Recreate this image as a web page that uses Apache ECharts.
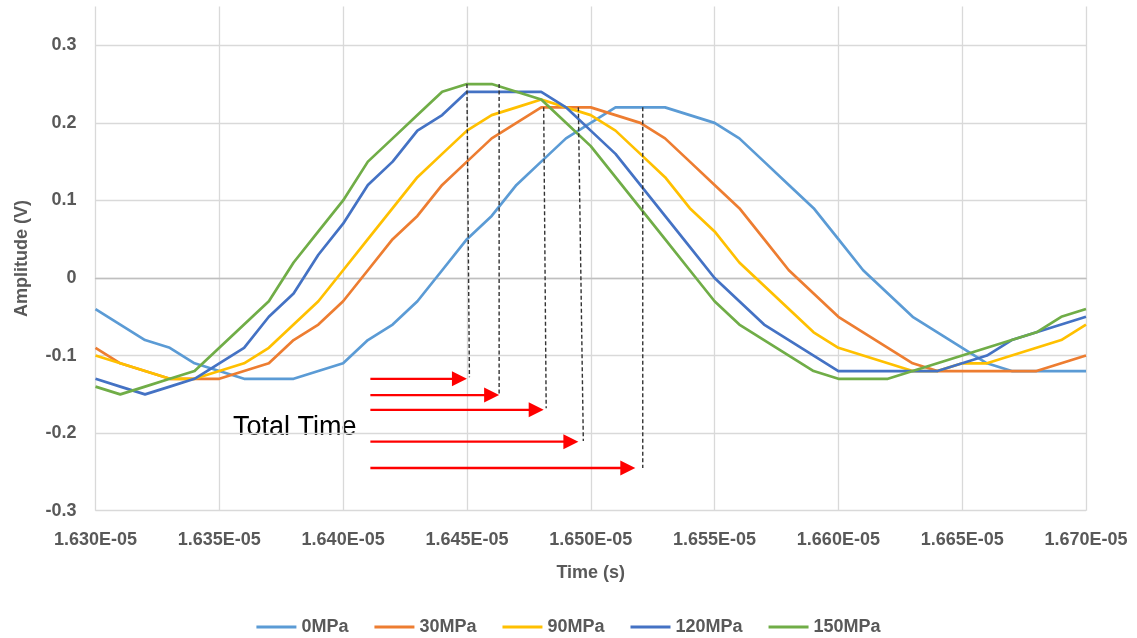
<!DOCTYPE html>
<html>
<head>
<meta charset="utf-8">
<script src="https://cdn.jsdelivr.net/npm/echarts@6/dist/echarts.min.js"></script>
<style>
  html, body { margin: 0; padding: 0; background: #ffffff; }
  #chart { width: 1137px; height: 638px; }
</style>
</head>
<body>
<div id="chart"></div>
<script>
// Time samples, in units of 1E-05 s
const times = [1.630, 1.631, 1.632, 1.633, 1.634, 1.635, 1.636, 1.637, 1.638, 1.639,
               1.640, 1.641, 1.642, 1.643, 1.644, 1.645, 1.646, 1.647, 1.648, 1.649,
               1.650, 1.651, 1.652, 1.653, 1.654, 1.655, 1.656, 1.657, 1.658, 1.659,
               1.660, 1.661, 1.662, 1.663, 1.664, 1.665, 1.666, 1.667, 1.668, 1.669, 1.670];

// Received amplitude (V) at each load
const amp0 = [-0.04, -0.06, -0.08, -0.09, -0.11, -0.12, -0.13, -0.13, -0.13, -0.12,
              -0.11, -0.08, -0.06, -0.03, 0.01, 0.05, 0.08, 0.12, 0.15, 0.18,
              0.20, 0.22, 0.22, 0.22, 0.21, 0.20, 0.18, 0.15, 0.12, 0.09,
              0.05, 0.01, -0.02, -0.05, -0.07, -0.09, -0.11, -0.12, -0.12, -0.12, -0.12];
const amp30 = [-0.09, -0.11, -0.12, -0.13, -0.13, -0.13, -0.12, -0.11, -0.08, -0.06,
               -0.03, 0.01, 0.05, 0.08, 0.12, 0.15, 0.18, 0.20, 0.22, 0.22,
               0.22, 0.21, 0.20, 0.18, 0.15, 0.12, 0.09, 0.05, 0.01, -0.02,
               -0.05, -0.07, -0.09, -0.11, -0.12, -0.12, -0.12, -0.12, -0.12, -0.11, -0.10];
const amp90 = [-0.10, -0.11, -0.12, -0.13, -0.13, -0.12, -0.11, -0.09, -0.06, -0.03,
               0.01, 0.05, 0.09, 0.13, 0.16, 0.19, 0.21, 0.22, 0.23, 0.22,
               0.21, 0.19, 0.16, 0.13, 0.09, 0.06, 0.02, -0.01, -0.04, -0.07,
               -0.09, -0.10, -0.11, -0.12, -0.12, -0.11, -0.11, -0.10, -0.09, -0.08, -0.06];
const amp120 = [-0.13, -0.14, -0.15, -0.14, -0.13, -0.11, -0.09, -0.05, -0.02, 0.03,
                0.07, 0.12, 0.15, 0.19, 0.21, 0.24, 0.24, 0.24, 0.24, 0.22,
                0.19, 0.16, 0.12, 0.08, 0.04, 0.00, -0.03, -0.06, -0.08, -0.10,
                -0.12, -0.12, -0.12, -0.12, -0.12, -0.11, -0.10, -0.08, -0.07, -0.06, -0.05];
const amp150 = [-0.14, -0.15, -0.14, -0.13, -0.12, -0.09, -0.06, -0.03, 0.02, 0.06,
                0.10, 0.15, 0.18, 0.21, 0.24, 0.25, 0.25, 0.24, 0.23, 0.20,
                0.17, 0.13, 0.09, 0.05, 0.01, -0.03, -0.06, -0.08, -0.10, -0.12,
                -0.13, -0.13, -0.13, -0.12, -0.11, -0.10, -0.09, -0.08, -0.07, -0.05, -0.04];

const seriesNames = ['0MPa', '30MPa', '90MPa', '120MPa', '150MPa'];
const seriesValues = [amp0, amp30, amp90, amp120, amp150];
const seriesColors = ['#5B9BD5', '#ED7D31', '#FFC000', '#4472C4', '#70AD47'];

// Total-time annotation: arrows from a common start to each peak time
const arrowStart = 1.6411;
const arrowEnd = [1.6450, 1.6463, 1.6481, 1.6495, 1.6518];
const arrowLevel = [-0.13, -0.151, -0.17, -0.211, -0.245];

// Dashed drop lines from each peak
const dropTimeTop = [1.6450, 1.6463, 1.6481, 1.6495, 1.6521];
const dropTimeBottom = [1.6451, 1.6463, 1.6482, 1.6497, 1.6521];
const dropTop = [0.25, 0.25, 0.22, 0.22, 0.22];
const dropBottom = [-0.128, -0.152, -0.168, -0.21, -0.245];

const xTickStep = 0.005;
const yTickStep = 0.1;

const labelFont = 'Liberation Sans, Arial, sans-serif';
const labelColor = '#595959';

const chart = echarts.init(document.getElementById('chart'), null, { renderer: 'canvas' });

const lineSeries = seriesNames.map((name, k) => ({
  name: name,
  type: 'line',
  xAxisIndex: 0,
  yAxisIndex: 0,
  showSymbol: false,
  symbol: 'none',
  animation: false,
  color: seriesColors[k],
  lineStyle: { width: 2.7, color: seriesColors[k], join: 'round' },
  data: times.map((t, i) => [t, seriesValues[k][i]]),
  z: 3 + k
}));

const dropSeries = {
  type: 'custom',
  xAxisIndex: 0,
  yAxisIndex: 0,
  animation: false,
  silent: true,
  z: 10,
  data: dropTimeTop.map((t, i) => [t, dropTop[i], dropTimeBottom[i], dropBottom[i]]),
  renderItem: function (params, api) {
    const a = api.coord([api.value(0), api.value(1)]);
    const b = api.coord([api.value(2), api.value(3)]);
    return {
      type: 'line',
      shape: { x1: a[0], y1: a[1], x2: b[0], y2: b[1] },
      style: { stroke: '#333333', lineWidth: 1.4, lineDash: [4, 2.5], fill: null }
    };
  }
};

const arrowSeries = {
  type: 'custom',
  xAxisIndex: 0,
  yAxisIndex: 0,
  animation: false,
  silent: true,
  z: 11,
  data: arrowEnd.map((t, i) => [arrowStart, t, arrowLevel[i]]),
  renderItem: function (params, api) {
    const a = api.coord([api.value(0), api.value(2)]);
    const b = api.coord([api.value(1), api.value(2)]);
    const headLen = 15, headHalf = 7.5;
    return {
      type: 'group',
      children: [
        {
          type: 'line',
          shape: { x1: a[0], y1: a[1], x2: b[0] - headLen + 1, y2: b[1] },
          style: { stroke: '#FF0000', lineWidth: 2.4 }
        },
        {
          type: 'polygon',
          shape: { points: [[b[0], b[1]], [b[0] - headLen, b[1] - headHalf], [b[0] - headLen, b[1] + headHalf]] },
          style: { fill: '#FF0000' }
        }
      ]
    };
  }
};

const option = {
  backgroundColor: '#ffffff',
  animation: false,
  grid: [
    { left: 95.5, right: 51, top: 6.5, bottom: 127.3, containLabel: false },
    { left: 95.5, right: 51, top: 45.3, bottom: 127.3, containLabel: false }
  ],
  xAxis: [
    {
      type: 'value',
      gridIndex: 0,
      min: 1.630,
      max: 1.670,
      interval: xTickStep,
      name: 'Time (s)',
      nameLocation: 'middle',
      nameGap: 53,
      nameTextStyle: { fontFamily: labelFont, fontWeight: 'bold', fontSize: 18, color: labelColor },
      axisLine: { show: false },
      axisTick: { show: false },
      axisLabel: {
        margin: 20,
        fontFamily: labelFont,
        fontWeight: 'bold',
        fontSize: 18,
        color: labelColor,
        formatter: v => v.toFixed(3) + 'E-05'
      },
      splitLine: { show: true, lineStyle: { color: '#D9D9D9', width: 1.3 } }
    },
    {
      type: 'value',
      gridIndex: 1,
      min: 1.630,
      max: 1.670,
      interval: xTickStep,
      axisLine: { show: true, onZero: true, lineStyle: { color: '#BFBFBF', width: 1.3 } },
      axisTick: { show: false },
      axisLabel: { show: false },
      splitLine: { show: false }
    }
  ],
  yAxis: [
    {
      type: 'value',
      gridIndex: 0,
      min: -0.3,
      max: 0.35,
      interval: yTickStep,
      name: 'Amplitude (V)',
      nameLocation: 'middle',
      nameGap: 64,
      nameRotate: 90,
      nameTextStyle: { fontFamily: labelFont, fontWeight: 'bold', fontSize: 18, color: labelColor },
      axisLine: { show: false },
      axisTick: { show: false },
      splitLine: { show: false },
      axisLabel: {
        margin: 19,
        showMaxLabel: false,
        fontFamily: labelFont,
        fontWeight: 'bold',
        fontSize: 18,
        color: labelColor,
        formatter: v => (Math.abs(v) < 1e-9 ? '0' : v.toFixed(1))
      }
    },
    {
      type: 'value',
      gridIndex: 1,
      min: -0.3,
      max: 0.3,
      interval: yTickStep,
      axisLine: { show: false },
      axisTick: { show: false },
      axisLabel: { show: false },
      splitLine: { show: true, lineStyle: { color: '#D9D9D9', width: 1.3 } }
    }
  ],
  legend: {
    data: seriesNames,
    left: 'center',
    top: 613,
    icon: 'rect',
    itemWidth: 40,
    itemHeight: 3,
    itemGap: 26,
    textStyle: { fontFamily: labelFont, fontWeight: 'bold', fontSize: 18, color: labelColor, padding: [0, 0, 0, 0] }
  },
  graphic: [
    {
      type: 'text',
      left: 233,
      top: 414,
      style: { text: 'Total Time', fontFamily: labelFont, fontSize: 27, fill: '#000000' }
    }
  ],
  series: lineSeries.concat([dropSeries, arrowSeries])
};

chart.setOption(option);
</script>
</body>
</html>
